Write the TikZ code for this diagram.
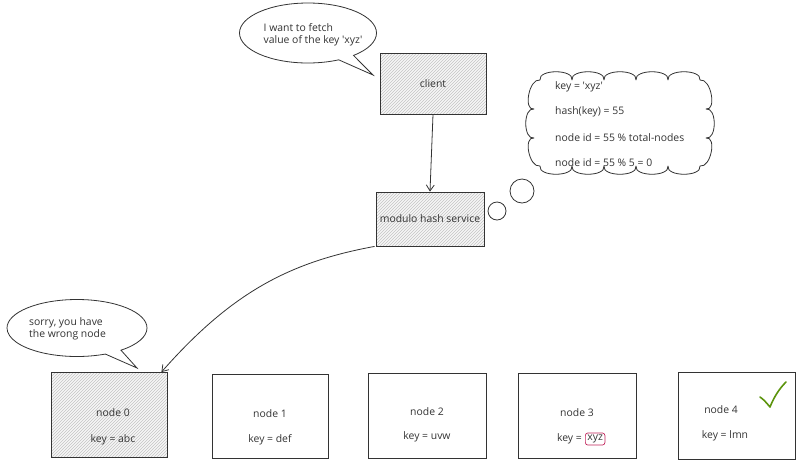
\documentclass[tikz,border=0pt]{standalone}
\usepackage{fontspec}
\setmainfont{Open Sans}
\usetikzlibrary{arrows.meta,patterns,shapes.callouts,shapes.geometric}
\definecolor{ink}{HTML}{333333}
\definecolor{hatch}{HTML}{C4C4C4}
\definecolor{xred}{HTML}{C2255C}
\definecolor{okgreen}{HTML}{5C940D}
\begin{document}
\begin{tikzpicture}[x=1pt,y=-1pt,
  font=\fontsize{10.4}{12}\selectfont,
  box/.style={draw=ink, line width=0.8pt, rectangle, inner sep=0pt},
  hatched/.style={preaction={fill=gray!6}, preaction={pattern=north east lines, pattern color=hatch}},
  lbl/.style={text=ink, inner sep=0pt},
  conn/.style={draw=ink, line width=0.8pt, -{Straight Barb[length=6pt,width=8pt]}},
  bubble/.style={draw=ink, line width=0.8pt, ellipse callout, fill=white, inner sep=0pt},
  thought/.style={draw=ink, line width=0.8pt, circle, inner sep=0pt},
  cloudline/.style={draw=ink, line width=0.8pt, fill=white, line join=round}
]
\useasboundingbox (0,0) rectangle (800,467);

% boxes
\node[box, hatched, minimum width=106, minimum height=61] (client) at (433,83.5) {};
\node[lbl] (clientt) at (client.center) {client};
\node[box, hatched, minimum width=108, minimum height=54] (mod) at (430,219) {};
\node[lbl] (modt) at (mod.center) {modulo hash service};

\node[box, hatched, minimum width=116, minimum height=85] (n0) at (109,415) {};
\node[box, minimum width=116, minimum height=84] (n1) at (270,416) {};
\node[box, minimum width=118, minimum height=85] (n2) at (427,415.5) {};
\node[box, minimum width=118, minimum height=85] (n3) at (577,415.5) {};
\node[box, minimum width=117, minimum height=87] (n4) at (736.5,415.5) {};

\node[lbl] (n0a) at (113,413) {node 0};
\node[lbl] (n0b) at (113,440) {key = abc};
\node[lbl] (n1a) at (270,414) {node 1};
\node[lbl] (n1b) at (270,440) {key = def};
\node[lbl] (n2a) at (427,412) {node 2};
\node[lbl] (n2b) at (427,437) {key = uvw};
\node[lbl] (n3a) at (577,413) {node 3};
\node[lbl, anchor=east] (n3b) at (582,439) {key =};
\node[draw=xred, line width=0.7pt, rounded corners=2.5pt, text=ink, inner sep=2pt, anchor=west] (n3x) at (585,439) {xyz};
\node[lbl] (n4a) at (721,410) {node 4};
\node[lbl] (n4b) at (725,436) {key = lmn};

% check mark
\draw[okgreen, line width=1.6pt, line cap=round, line join=round]
  (760,397) .. controls (764,400) .. (770,407) .. controls (774,397) and (779,389) .. (786,382);

% connectors
\draw[conn] (client.south) -- (mod.north);
\draw[conn] ([xshift=-1pt]mod.south west) .. controls (290,262) and (232,292) .. ([xshift=-6pt]n0.north east);

% speech bubbles
\coordinate (tip1) at (373,75);
\node[bubble, minimum width=137, minimum height=60, callout absolute pointer={(tip1)}] (b1) at (308,33) {};
\node[lbl, align=left] (b1t) at (313,35) {I want to fetch\\value of the key \textquotesingle xyz\textquotesingle};

\coordinate (tip2) at (137,368);
\node[bubble, minimum width=140, minimum height=57, callout absolute pointer={(tip2)}] (b2) at (77,328) {};
\node[lbl, align=left, anchor=west] (b2t) at (29,329) {sorry, you have\\the wrong node};

% thought cloud
\path[cloudline]
  (540,80) .. controls (538,69) and (574,69) .. (572,80)
           .. controls (570,69) and (606,69) .. (604,80)
           .. controls (602,69) and (638,69) .. (636,80)
           .. controls (634,69) and (670,69) .. (668,80)
           .. controls (666,69) and (702,69) .. (700,80)
           .. controls (711,78) and (717,111) .. (706,109)
           .. controls (717,107) and (717,140) .. (706,138)
           .. controls (717,136) and (711,168) .. (700,166)
           .. controls (702,177) and (666,177) .. (668,166)
           .. controls (670,177) and (634,177) .. (636,166)
           .. controls (638,177) and (602,177) .. (604,166)
           .. controls (606,177) and (570,177) .. (572,166)
           .. controls (574,177) and (538,177) .. (540,166)
           .. controls (529,168) and (523,136) .. (534,138)
           .. controls (523,140) and (523,107) .. (534,109)
           .. controls (523,111) and (529,78) .. (540,80) -- cycle;
\node[thought, minimum size=24] (t1) at (522,191) {};
\node[thought, minimum size=18] (t2) at (497,211) {};
\node[lbl, anchor=west] (c1) at (555,87) {key = \textquotesingle xyz\textquotesingle};
\node[lbl, anchor=west] (c2) at (555,112) {hash(key) = 55};
\node[lbl, anchor=west] (c3) at (555,138) {node id = 55 \% total-nodes};
\node[lbl, anchor=west] (c4) at (555,163) {node id = 55 \% 5 = 0};
\end{tikzpicture}
\end{document}
